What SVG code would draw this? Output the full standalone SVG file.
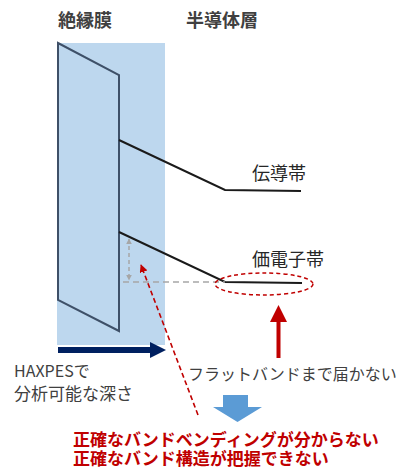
<svg xmlns="http://www.w3.org/2000/svg" width="398" height="470" viewBox="0 0 398 470">
<defs>
<style>
.hdr{font-family:"Noto Sans CJK JP","Noto Sans",sans-serif;font-weight:bold;font-size:18px;fill:#404040}
.lbl{font-family:"Noto Sans CJK JP","Noto Sans",sans-serif;font-size:18px;fill:#262626}
.note{font-family:"Noto Sans CJK JP","Noto Sans",sans-serif;font-size:16px;fill:#404040}
.red{font-family:"Noto Sans CJK JP","Noto Sans",sans-serif;font-weight:bold;font-size:17px;fill:#c00000}
.band{fill:none;stroke:#1a1a1a;stroke-width:2}
.ins{fill:none;stroke:#3e5068;stroke-width:2;stroke-linejoin:miter}
</style>
<marker id="gh" viewBox="0 0 10 10" refX="9" refY="5" markerWidth="4" markerHeight="4" orient="auto-start-reverse"><path d="M0,0 L10,5 L0,10 z" fill="#a6a6a6"/></marker>
<marker id="rh" viewBox="0 0 10 10" refX="9" refY="5" markerWidth="5" markerHeight="5" orient="auto"><path d="M0,0 L10,5 L0,10 z" fill="#c00000"/></marker>
</defs>
<rect id="depth" x="57" y="43" width="108" height="302" fill="#bdd7ee"/>
<g id="insulator"><path class="ins" d="M58,43 L119,75 L119,331 L58,300 Z"/></g>
<g id="cband"><path class="band" d="M119,140 L225,190 L301,191"/></g>
<g id="vband"><path class="band" d="M119,232 L225,282 L302,283"/></g>
<g id="labels">
<text class="hdr" x="58" y="27">絶縁膜</text>
<text class="hdr" x="186" y="27">半導体層</text>
<text class="lbl" x="252" y="180">伝導帯</text>
<text class="lbl" x="252" y="266">価電子帯</text>
<text class="note" x="14" y="377">HAXPESで</text>
<text class="note" x="14" y="400" style="font-size:17px">分析可能な深さ</text>
<text class="note" x="188" y="380">フラットバンドまで届かない</text>
<text class="red" x="73" y="446">正確なバンドベンディングが分からない</text>
<text class="red" x="73" y="465">正確なバンド構造が把握できない</text>
</g>
<g id="connectors">
<line x1="123" y1="282" x2="225" y2="282" stroke="#a6a6a6" stroke-width="1.5" stroke-dasharray="6 4"/>
<line x1="129" y1="239" x2="129" y2="280" stroke="#a6a6a6" stroke-width="1.5" stroke-dasharray="4 3" marker-start="url(#gh)" marker-end="url(#gh)"/>
<ellipse cx="264" cy="284" rx="49" ry="11" fill="none" stroke="#c00000" stroke-width="1.5" stroke-dasharray="4 3"/>
<line x1="198" y1="415" x2="141" y2="265" stroke="#c00000" stroke-width="1.6" stroke-dasharray="5 3" marker-end="url(#rh)"/>
<path d="M58,347 L150,347 L150,342 L166,350 L150,358 L150,353 L58,353 Z" fill="#002060"/>
<path d="M276.5,358 L276.5,322 L270,322 L278.5,305 L287,322 L280.5,322 L280.5,358 Z" fill="#c00000"/>
<path d="M223,395 L248,395 L248,407 L262,407 L237.5,422 L213,407 L223,407 Z" fill="#5b9bd5"/>
</g>
</svg>
